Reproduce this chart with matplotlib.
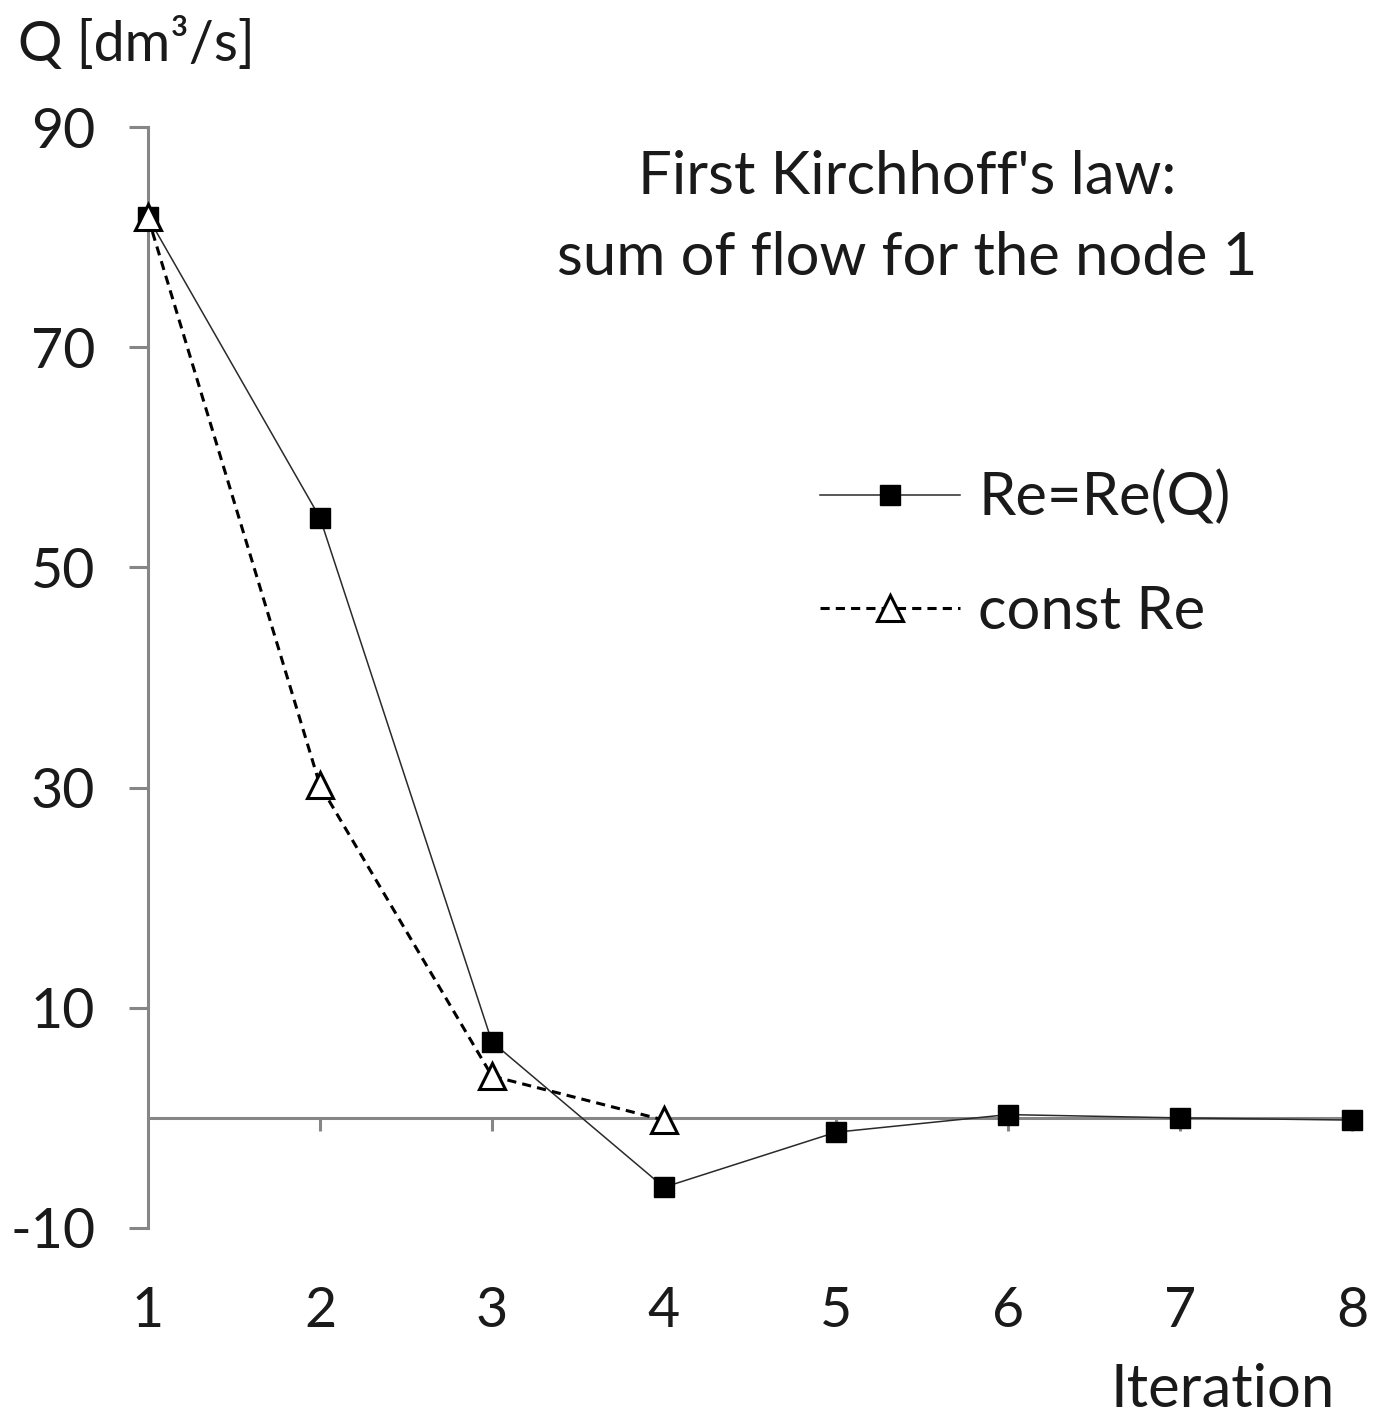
import matplotlib
matplotlib.use("Agg")
import matplotlib.pyplot as plt

plt.rcParams['font.family'] = ['Lato', 'DejaVu Sans']
plt.rcParams['axes.unicode_minus'] = False

iterations = [1, 2, 3, 4, 5, 6, 7, 8]
q_re_var = [81.8, 54.5, 6.9, -6.3, -1.3, 0.3, 0.0, -0.2]
iter_const = [1, 2, 3, 4]
q_re_const = [81.8, 30.2, 3.8, -0.2]
yticks = [-10, 10, 30, 50, 70, 90]

W, H = 1381, 1427
fig = plt.figure(figsize=(W / 100, H / 100), dpi=100)
ax = fig.add_axes([148 / W, 1 - 1228 / H, 1204 / W, 1101 / H])

axis_col = '#868686'
txt_col = '#1a1a1a'
fs_tick = 40
fs = 43

ax.plot(iterations, q_re_var, color='#2a2a2a', lw=1.1, marker='s', ms=14,
        mfc='black', mec='black', label='Re=Re(Q)', zorder=3, clip_on=False)
ax.plot(iter_const, q_re_const, color='black', lw=2.2, ls=(0, (3, 2)), marker='^', ms=19,
        mfc='white', mec='black', mew=2.2, label='const Re', zorder=4, clip_on=False)

ax.set_xlim(1, 8)
ax.set_ylim(-10, 90)
ax.set_yticks(yticks)
ax.set_xticks(iterations)

for s in ['top', 'right', 'bottom']:
    ax.spines[s].set_visible(False)
ax.spines['left'].set_color(axis_col)
ax.spines['left'].set_linewidth(2.2)

ax.tick_params(axis='y', direction='out', length=14, width=2.2, color=axis_col,
               labelsize=fs_tick, pad=24, labelcolor=txt_col)
ax.tick_params(axis='x', length=0, labelsize=fs_tick, pad=42, labelcolor=txt_col)

# horizontal axis line at y = 0 with tick marks
sec = ax.secondary_xaxis(0, transform=ax.transData)
sec.spines['bottom'].set_color(axis_col)
sec.spines['bottom'].set_linewidth(2.2)
sec.set_xticks(iterations[1:])
sec.tick_params(axis='x', direction='out', length=9, width=2.2, color=axis_col,
                labelbottom=False)

fig.text(18 / W, 1 - 44 / H, 'Q [dm³/s]', fontsize=fs_tick, ha='left', va='center',
         color=txt_col)
fig.text(1335 / W, 1 - 1390 / H, 'Iteration', fontsize=fs, ha='right', va='center',
         color=txt_col)
fig.text(907 / W, 1 - 177 / H, "First Kirchhoff's law:",
         fontsize=fs, ha='center', va='center', color=txt_col)
fig.text(907 / W, 1 - 258 / H, "sum of flow for the node 1",
         fontsize=fs, ha='center', va='center', color=txt_col)

leg = ax.legend(loc='center left', bbox_to_anchor=((820 - 148) / 1204, (1228 - 554.5) / 1101),
                frameon=False, fontsize=fs, handlelength=2.35, handletextpad=0.3,
                labelspacing=1.0, borderpad=0, borderaxespad=0)
for t in leg.get_texts():
    t.set_color(txt_col)

fig.savefig('out.png', dpi=100, facecolor='white')
